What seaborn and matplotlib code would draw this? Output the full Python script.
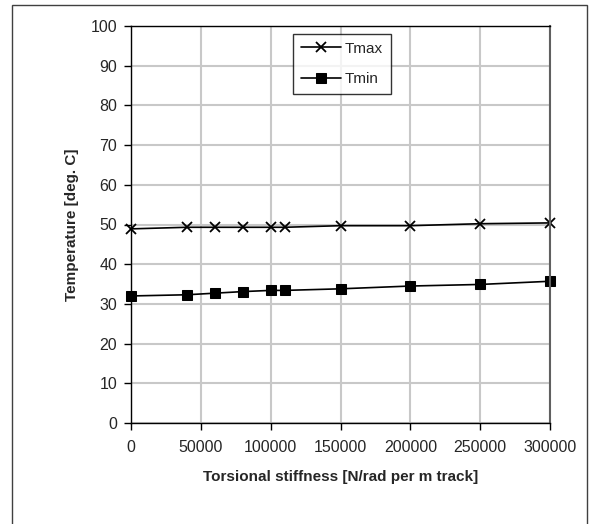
import matplotlib
matplotlib.use("Agg")
import matplotlib.pyplot as plt
import seaborn as sns
import pandas as pd
from matplotlib.patches import Rectangle

# torsional stiffness values [N/rad per m track]
stiffness = [0, 40000, 60000, 80000, 100000, 110000, 150000, 200000, 250000, 300000]
# temperatures [deg. C]
t_max = [48.9, 49.3, 49.3, 49.3, 49.3, 49.3, 49.7, 49.7, 50.2, 50.4]
t_min = [32.0, 32.3, 32.7, 33.1, 33.4, 33.4, 33.8, 34.5, 34.9, 35.7]

df = pd.DataFrame({"stiffness": stiffness, "Tmax": t_max, "Tmin": t_min})

sns.set_style("white")
plt.rcParams["font.family"] = ["Liberation Sans", "DejaVu Sans"]

fig = plt.figure(figsize=(5.93, 5.24), dpi=100)
ax = fig.add_axes([131 / 593, 1 - 423 / 524, 419 / 593, 397 / 524])

# outer chart frame
fig.patches.append(Rectangle((12 / 593, -0.05), 575 / 593, 1.05 - 5 / 524,
                             transform=fig.transFigure, fill=False,
                             edgecolor="#404040", linewidth=1.0))

sns.lineplot(data=df, x="stiffness", y="Tmax", ax=ax, color="black", lw=1.2,
             marker="x", markersize=7.5, markeredgewidth=1.3,
             markeredgecolor="black", label="Tmax", clip_on=False)
sns.lineplot(data=df, x="stiffness", y="Tmin", ax=ax, color="black", lw=1.2,
             marker="s", markersize=7, markeredgecolor="black", label="Tmin",
             clip_on=False)

ax.set_xlim(0, 300000)
ax.set_ylim(0, 100)
ax.set_xticks(range(0, 300001, 50000))
ax.set_yticks(range(0, 101, 10))
ax.grid(True, color="#c8c8c8", linewidth=1.5)
ax.set_axisbelow(True)

for side in ["left", "bottom", "top"]:
    ax.spines[side].set_color("black")
    ax.spines[side].set_linewidth(1.0)
ax.spines["right"].set_color("#606060")
ax.spines["right"].set_linewidth(1.5)

ax.tick_params(axis="both", which="major", direction="out", length=5,
               width=1, color="black", labelsize=11.5, pad=5, left=True, bottom=True)
ax.tick_params(axis="x", pad=7)

ax.set_xlabel("Torsional stiffness [N/rad per m track]", fontsize=11,
              fontweight="bold", labelpad=11)
ax.set_ylabel("Temperature [deg. C]", fontsize=11, fontweight="bold", labelpad=8)

leg = ax.legend(loc="upper left", bbox_to_anchor=(0.387, 0.98), fontsize=11,
                frameon=True, fancybox=False, handlelength=2.6,
                borderpad=0.5, labelspacing=1.1, handletextpad=0.3,
                borderaxespad=0)
leg.get_frame().set_edgecolor("black")
leg.get_frame().set_linewidth(1.0)

fig.savefig("out.png", dpi=100)
